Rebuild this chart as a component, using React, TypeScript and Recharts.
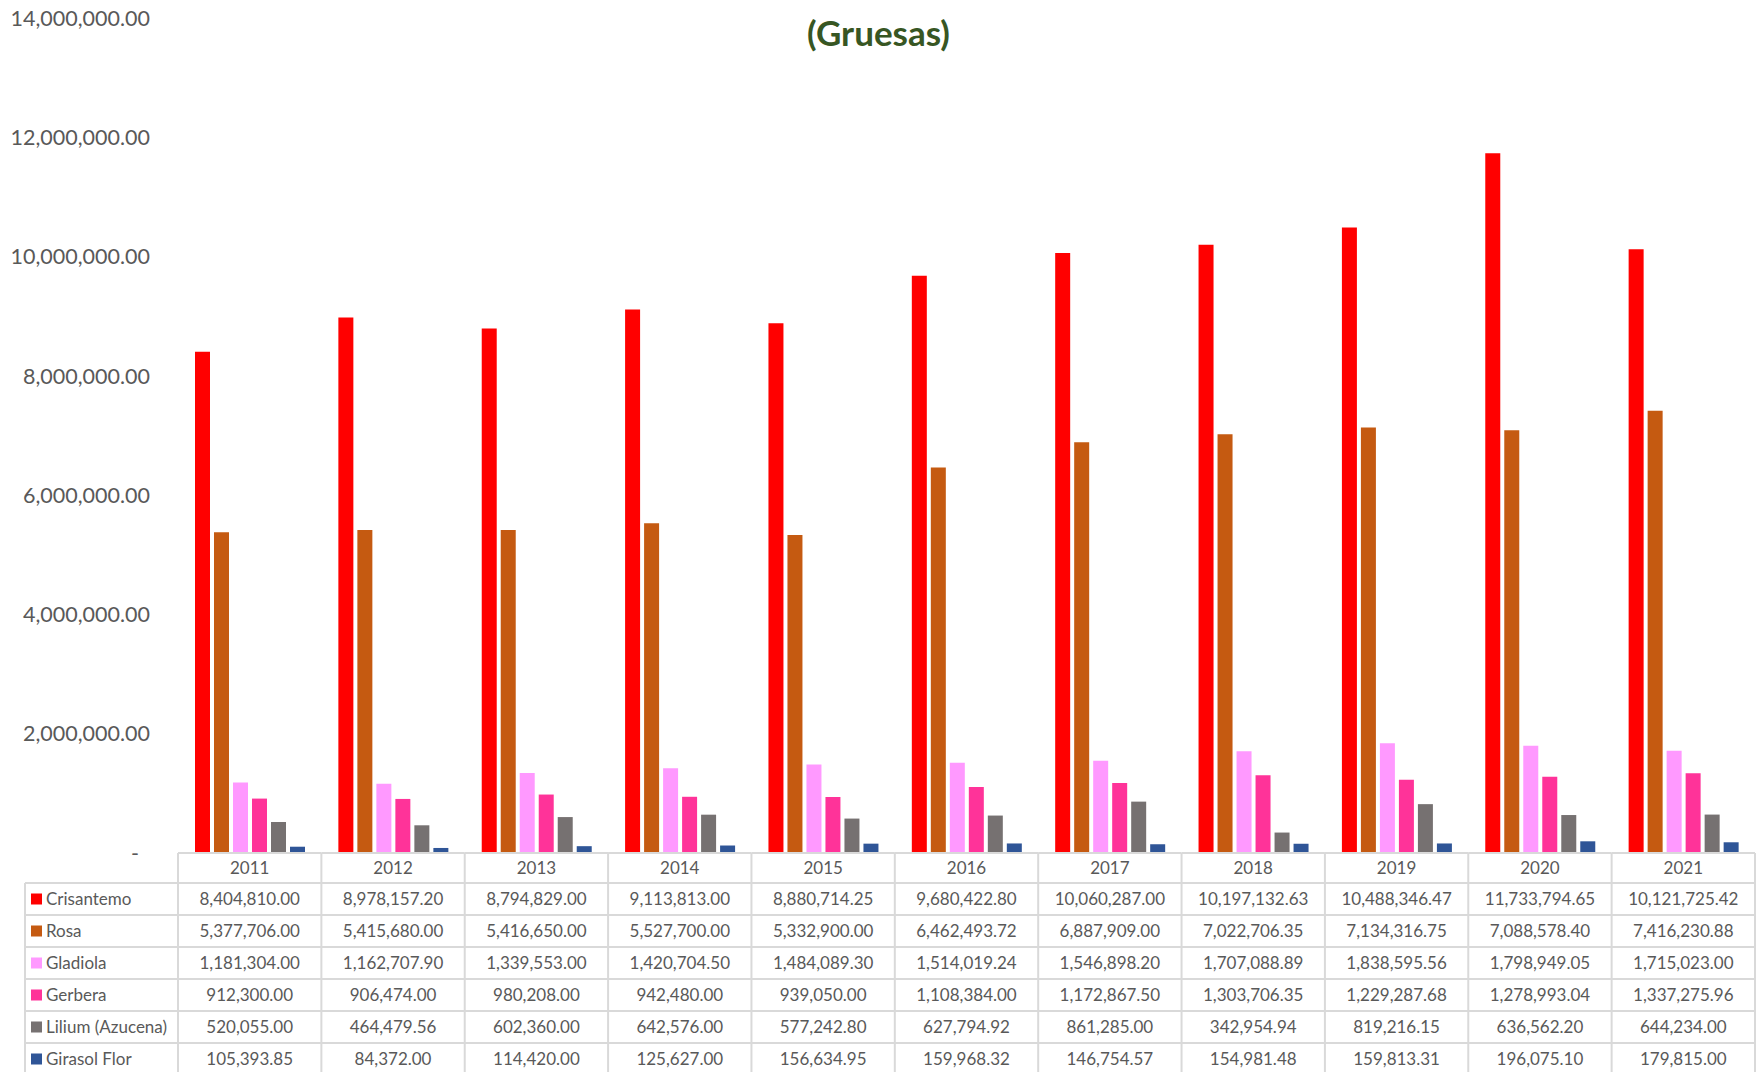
import React from 'react';
import { BarChart, Bar, XAxis, YAxis } from 'recharts';

const years = ['2011', '2012', '2013', '2014', '2015', '2016', '2017', '2018', '2019', '2020', '2021'];
const crisantemo = [8404810.0, 8978157.2, 8794829.0, 9113813.0, 8880714.25, 9680422.8, 10060287.0, 10197132.63, 10488346.47, 11733794.65, 10121725.42];
const rosa = [5377706.0, 5415680.0, 5416650.0, 5527700.0, 5332900.0, 6462493.72, 6887909.0, 7022706.35, 7134316.75, 7088578.4, 7416230.88];
const gladiola = [1181304.0, 1162707.9, 1339553.0, 1420704.5, 1484089.3, 1514019.24, 1546898.2, 1707088.89, 1838595.56, 1798949.05, 1715023.0];
const gerbera = [912300.0, 906474.0, 980208.0, 942480.0, 939050.0, 1108384.0, 1172867.5, 1303706.35, 1229287.68, 1278993.04, 1337275.96];
const lilium = [520055.0, 464479.56, 602360.0, 642576.0, 577242.8, 627794.92, 861285.0, 342954.94, 819216.15, 636562.2, 644234.0];
const girasol = [105393.85, 84372.0, 114420.0, 125627.0, 156634.95, 159968.32, 146754.57, 154981.48, 159813.31, 196075.1, 179815.0];
const yTicks = [0, 2000000, 4000000, 6000000, 8000000, 10000000, 12000000, 14000000];

const seriesDefs = [
  { key: 'Crisantemo', values: crisantemo, color: '#FF0000' },
  { key: 'Rosa', values: rosa, color: '#C55A11' },
  { key: 'Gladiola', values: gladiola, color: '#FF99FF' },
  { key: 'Gerbera', values: gerbera, color: '#FF3399' },
  { key: 'Lilium (Azucena)', values: lilium, color: '#767171' },
  { key: 'Girasol Flor', values: girasol, color: '#2F5597' },
];

const data = years.map((y, i) => {
  const row: any = { year: y };
  seriesDefs.forEach((s) => (row[s.key] = s.values[i]));
  return row;
});

const W = 1763;
const H = 1072;
const PLOT_LEFT = 178;
const RIGHT = 8;
const TOP = 18;
const AXIS_H = 219;
const BAND = (W - PLOT_LEFT - RIGHT) / years.length;
const HEADER_H = 30;
const ROW_H = 32;
const LEGEND_LEFT = 25;
const FONT = 'Lato, "Open Sans", sans-serif';
const TEXT = '#595959';
const GRID = '#D9D9D9';
const CELL_FS = 17;

const fmt = (v: number) =>
  v.toLocaleString('en-US', { minimumFractionDigits: 2, maximumFractionDigits: 2 });

const TableTick = (props: any) => {
  const { x, y, payload, index } = props;
  const i = payload?.index ?? index;
  const left = x - BAND / 2;
  const right = x + BAND / 2;
  const bottom = y + HEADER_H + ROW_H * seriesDefs.length + 4;
  const els: any[] = [];
  els.push(<line key="vl" x1={left} x2={left} y1={y} y2={bottom} stroke={GRID} strokeWidth={2} />);
  if (i === years.length - 1) {
    els.push(<line key="vr" x1={right} x2={right} y1={y} y2={bottom} stroke={GRID} strokeWidth={2} />);
  }
  els.push(<line key="h0" x1={left} x2={right} y1={y} y2={y} stroke={GRID} strokeWidth={2} />);
  for (let k = 0; k <= seriesDefs.length; k++) {
    const yy = y + HEADER_H + ROW_H * k;
    els.push(<line key={'h' + (k + 1)} x1={left} x2={right} y1={yy} y2={yy} stroke={GRID} strokeWidth={2} />);
  }
  els.push(
    <text key="yr" x={x} y={y + HEADER_H / 2} dy="0.36em" textAnchor="middle" fontSize={CELL_FS} fontFamily={FONT} fill={TEXT}>
      {payload.value}
    </text>
  );
  seriesDefs.forEach((s, k) => {
    const cy = y + HEADER_H + ROW_H * k + ROW_H / 2;
    els.push(
      <text key={'v' + k} x={x} y={cy} dy="0.36em" textAnchor="middle" fontSize={CELL_FS} fontFamily={FONT} fill={TEXT}>
        {fmt(s.values[i])}
      </text>
    );
  });
  if (i === 0) {
    els.push(<line key="ll" x1={LEGEND_LEFT} x2={LEGEND_LEFT} y1={y + HEADER_H} y2={bottom} stroke={GRID} strokeWidth={2} />);
    for (let k = 0; k <= seriesDefs.length; k++) {
      const yy = y + HEADER_H + ROW_H * k;
      els.push(<line key={'lh' + k} x1={LEGEND_LEFT} x2={left} y1={yy} y2={yy} stroke={GRID} strokeWidth={2} />);
    }
    seriesDefs.forEach((s, k) => {
      const cy = y + HEADER_H + ROW_H * k + ROW_H / 2;
      els.push(<rect key={'m' + k} x={31} y={cy - 5.5} width={11} height={11} fill={s.color} />);
      els.push(
        <text key={'l' + k} x={46} y={cy} dy="0.36em" textAnchor="start" fontSize={CELL_FS} fontFamily={FONT} fill={TEXT}>
          {s.key}
        </text>
      );
    });
  }
  return <g>{els}</g>;
};

const YTick = (props: any) => {
  const { x, y, payload } = props;
  const v = payload.value;
  return (
    <text x={v === 0 ? x - 11 : x} y={y} dy="0.36em" textAnchor="end" fontSize={21.5} fontFamily={FONT} fill={TEXT}>
      {v === 0 ? '-' : fmt(v)}
    </text>
  );
};

export default function App() {
  return (
    <div style={{ position: 'absolute', left: 0, top: 0, width: W, height: H, background: '#fff' }}>
      <div
        style={{
          position: 'absolute',
          left: 0,
          top: 11,
          width: W - 6,
          height: 42,
          lineHeight: '42px',
          textAlign: 'center',
          fontFamily: FONT,
          fontWeight: 700,
          fontSize: 35,
          color: '#375623',
          zIndex: 2,
        }}
      >
        (Gruesas)
      </div>
      <BarChart
        width={W}
        height={H}
        data={data}
        margin={{ top: TOP, right: RIGHT, left: 0, bottom: 0 }}
        barSize={15}
        barGap={4}
      >
        <XAxis
          dataKey="year"
          axisLine={false}
          tickLine={false}
          tickSize={0}
          tickMargin={0}
          height={AXIS_H}
          interval={0}
          tick={<TableTick />}
        />
        <YAxis
          domain={[0, 14000000]}
          ticks={yTicks}
          axisLine={false}
          tickLine={false}
          tickSize={0}
          tickMargin={28}
          width={PLOT_LEFT}
          interval={0}
          tick={<YTick />}
        />
        {seriesDefs.map((s) => (
          <Bar key={s.key} dataKey={s.key} fill={s.color} isAnimationActive={false} />
        ))}
      </BarChart>
    </div>
  );
}
